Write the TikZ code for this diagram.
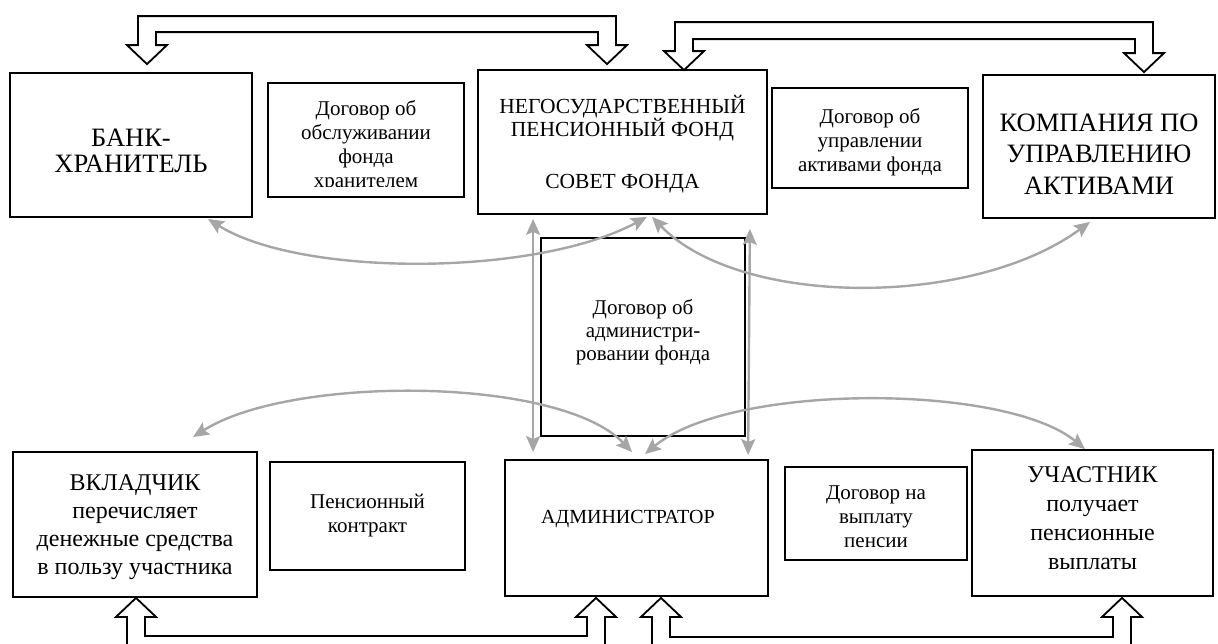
\documentclass[tikz,border=0pt]{standalone}
\usepackage{fontspec}
\setmainfont{Liberation Serif}
\usetikzlibrary{arrows.meta,calc}
\definecolor{linkgray}{RGB}{166,166,166}
\tikzset{
  box/.style={draw, line width=1.8pt, fill=white, inner sep=0pt},
  txt/.style={align=center, inner sep=0pt},
  hollow/.style={draw, line width=1.8pt, fill=white, line join=miter},
  gtip/.tip={Stealth[length=16pt,width=14pt,inset=3pt]},
  glink/.style={draw=linkgray, line width=2.4pt, gtip-gtip},
  fbig/.style={font=\fontsize{26.5}{26.5}\selectfont},
  fcomp/.style={font=\fontsize{26.5}{31.5}\selectfont},
  fnpf/.style={font=\fontsize{21.5}{23.5}\selectfont},
  fparty/.style={font=\fontsize{24}{28}\selectfont},
  fdeal/.style={font=\fontsize{21}{24}\selectfont},
}
% Double hollow arrow joined by a bar: #1,#2 tip coordinates,
% #3 = 1 (bar above, arrows down) or (-1) (bar below, arrows up),
% #4/#5 inner/outer distance of the bar from the first tip
\newcommand\hollowlink[5]{%
  \draw[hollow] let \p1=(#1), \p2=(#2) in
    ({\x1-9pt},{\y1+#3*#5pt}) -- ({\x2+9pt},{\y1+#3*#5pt})
    -- ({\x2+9pt},{\y2+#3*19pt}) -- ({\x2+20pt},{\y2+#3*19pt}) -- (\x2,\y2)
    -- ({\x2-20pt},{\y2+#3*19pt}) -- ({\x2-9pt},{\y2+#3*19pt})
    -- ({\x2-9pt},{\y1+#3*#4pt}) -- ({\x1+9pt},{\y1+#3*#4pt})
    -- ({\x1+9pt},{\y1+#3*19pt}) -- ({\x1+20pt},{\y1+#3*19pt}) -- (\x1,\y1)
    -- ({\x1-20pt},{\y1+#3*19pt}) -- ({\x1-9pt},{\y1+#3*19pt}) -- cycle;}
\begin{document}
\begin{tikzpicture}[x=1pt,y=-1pt]
\useasboundingbox (0,0) rectangle (1218,643);
\clip (0,0) rectangle (1218,643);

% boxes of the parties
\node[box, minimum width=242pt, minimum height=144pt] (bank) at (131,145) {};
\node[box, minimum width=289pt, minimum height=144pt] (npf)  at (622.5,142) {};
\node[box, minimum width=232pt, minimum height=143pt] (comp) at (1099,146.5) {};
\node[box, minimum width=244pt, minimum height=145pt] (vk)   at (135,524.5) {};
\node[box, minimum width=263pt, minimum height=136pt] (admin) at (636.5,528) {};
\node[box, minimum width=241pt, minimum height=146pt] (part) at (1092.5,523) {};

% boxes of the contracts
\node[box, minimum width=196pt, minimum height=114pt] (c1)  at (366,140) {};
\node[box, minimum width=196pt, minimum height=100pt] (c2)  at (870,138) {};
\node[box, minimum width=204pt, minimum height=198pt] (mid) at (643,337) {};
\node[box, minimum width=195pt, minimum height=108pt] (c3)  at (367.5,516) {};
\node[box, minimum width=182pt, minimum height=93pt]  (c4)  at (876,513.5) {};

% hollow double arrows
\coordinate (t1a) at ([xshift=16pt,yshift=8pt]bank.north);
\coordinate (t1b) at ([xshift=-15.5pt,yshift=5pt]npf.north);
\coordinate (t2a) at ([xshift=61.5pt,yshift=-1pt]npf.north);
\coordinate (t2b) at ([xshift=45pt,yshift=2pt]comp.north);
\coordinate (b1a) at ([xshift=1pt]vk.south);
\coordinate (b1b) at ([xshift=-40.5pt,yshift=-1pt]admin.south);
\coordinate (b2a) at ([xshift=24.5pt,yshift=-1pt]admin.south);
\coordinate (b2b) at ([xshift=29.5pt,yshift=-1pt]part.south);
\hollowlink{t1a}{t1b}{1}{32}{48}
\hollowlink{t2a}{t2b}{1}{31}{48}
\hollowlink{b1a}{b1b}{(-1)}{38}{56}
\hollowlink{b2a}{b2b}{(-1)}{39}{57}

% texts
\node[txt, fbig] (bank-t) at (131,151) {БАНК-\\ХРАНИТЕЛЬ};
\begin{scope}
  \clip (268,83) rectangle (464,186);
  \node[txt, fdeal] (c1-t) at (366,146) {Договор об\\обслуживании\\фонда\\хранителем};
\end{scope}
\node[txt, fnpf] (npf-t) at (622.5,144) {НЕГОСУДАРСТВЕННЫЙ\\ПЕНСИОННЫЙ ФОНД\\[28.5pt]СОВЕТ ФОНДА};
\node[txt, fdeal] (c2-t) at (870,142) {Договор об\\управлении\\активами фонда};
\node[txt, fcomp] (comp-t) at (1099,154) {КОМПАНИЯ ПО\\УПРАВЛЕНИЮ\\АКТИВАМИ};
\node[txt, font=\fontsize{21}{23}\selectfont] (mid-t) at (643,332) {Договор об\\администри-\\ровании фонда};
\node[txt, fparty] (vk-t) at (135,527.5) {ВКЛАДЧИК\\перечисляет\\денежные средства\\в пользу участника};
\node[txt, fdeal] (c3-t) at (367.5,516) {Пенсионный\\контракт};
\node[txt, font=\fontsize{20}{24}\selectfont] (admin-t) at (628,519) {АДМИНИСТРАТОР};
\node[txt, fdeal] (c4-t) at (876,517) {Договор на\\выплату\\пенсии};
\node[txt, font=\fontsize{24}{29}\selectfont] (part-t) at (1092.5,518.5) {УЧАСТНИК\\получает\\пенсионные\\выплаты};

% grey links between the parties
\draw[glink] ([xshift=77pt,yshift=-1pt]bank.south) .. controls (300,277) and (535,277) .. ([xshift=24.5pt,yshift=-2pt]npf.south);
\draw[glink] ([xshift=29.5pt,yshift=-2pt]npf.south) .. controls (740,308) and (973,308) .. ([xshift=-9pt,yshift=-3pt]comp.south);
\draw[glink] ([xshift=56pt,yshift=-4pt]npf.south west) -- ([xshift=29pt,yshift=7pt]admin.north west);
\draw[glink] ([xshift=-18pt,yshift=-14pt]npf.south east) -- ([xshift=244pt,yshift=4pt]admin.north west);
\draw[glink] ([xshift=-4.5pt,yshift=7pt]admin.north) .. controls (560,376) and (290,375) .. ([xshift=58pt,yshift=14pt]vk.north);
\draw[glink] ([xshift=8.5pt,yshift=5pt]admin.north) .. controls (730,383) and (1005,383) .. ([xshift=-7.5pt]part.north);
\end{tikzpicture}
\end{document}
